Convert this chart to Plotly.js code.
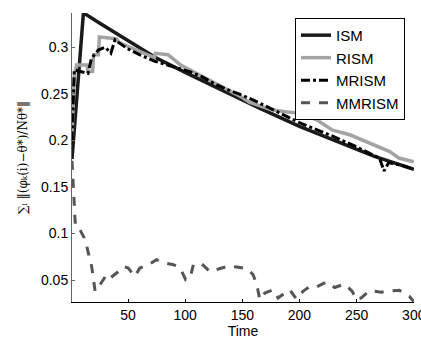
<!DOCTYPE html>
<html>
<head>
<meta charset="utf-8">
<script src="https://cdn.plot.ly/plotly-3.0.1.min.js"></script>
<style>html,body{margin:0;padding:0;background:#fff;}#chart{width:421px;height:339px;}</style>
</head>
<body>
<div id="chart"></div>
<script>
// ISM
var ismT = [1, 11, 25, 50, 74, 100, 125, 150, 165, 200, 235, 265, 300];
var ismV = [0.18, 0.337, 0.326, 0.307, 0.289, 0.273, 0.258, 0.244, 0.2346, 0.215, 0.198, 0.183, 0.169];
// RISM
var rismT = [1, 3, 5, 14, 15, 19, 20, 24, 25, 40, 42, 55, 73, 74, 85, 96, 110, 130, 150, 156, 165, 175, 186, 200, 215, 229, 244, 261, 279, 287, 300];
var rismV = [0.205, 0.27, 0.281, 0.281, 0.274, 0.274, 0.292, 0.292, 0.311, 0.309, 0.305, 0.298, 0.289, 0.2935, 0.292, 0.281, 0.272, 0.259, 0.246, 0.241, 0.237, 0.233, 0.231, 0.229, 0.222, 0.211, 0.206, 0.197, 0.188, 0.181, 0.177];
// MRISM
var mrismT = [1, 3, 15, 18, 24, 30, 35, 38.6, 48.8, 60, 73.5, 90, 104, 114.5, 124.6, 137.7, 149.4, 162.5, 180, 200, 230, 250, 270, 274, 278, 290, 300];
var mrismV = [0.20, 0.2757, 0.272, 0.288, 0.297, 0.300, 0.2936, 0.308, 0.299, 0.292, 0.285, 0.279, 0.2738, 0.2685, 0.2614, 0.2542, 0.2488, 0.2416, 0.231, 0.219, 0.204, 0.193, 0.181, 0.167, 0.176, 0.173, 0.169];
// MMRISM
var mmrismT = [1, 4, 8, 12.5, 15.3, 18.2, 19.7, 21.2, 25.5, 31.3, 34.3, 40, 45.9, 50.2, 56, 60.4, 67.7, 75, 82.2, 89.8, 95.6, 100.5, 104.3, 107.2, 114.5, 121.7, 130.5, 137.7, 145, 153.7, 159.5, 163, 165.3, 169.7, 177, 181.3, 187.1, 191.5, 197.3, 203.1, 209, 214.8, 223.5, 230.7, 239.5, 246.2, 249.6, 254, 261.3, 271.5, 280.2, 287.4, 296.2, 300];
var mmrismV = [0.178, 0.107, 0.104, 0.0933, 0.079, 0.0646, 0.052, 0.0378, 0.045, 0.0557, 0.052, 0.0575, 0.0646, 0.0629, 0.0539, 0.0629, 0.0664, 0.0718, 0.0682, 0.0664, 0.0629, 0.0503, 0.0521, 0.0664, 0.0674, 0.0589, 0.0624, 0.065, 0.064, 0.0624, 0.0557, 0.0431, 0.029, 0.036, 0.0396, 0.0307, 0.036, 0.0396, 0.0296, 0.0378, 0.0431, 0.0425, 0.0478, 0.042, 0.0457, 0.0378, 0.029, 0.0307, 0.0385, 0.037, 0.0385, 0.0389, 0.0324, 0.027];

var seriesNames = ["ISM", "RISM", "MRISM", "MMRISM"];
var xTickVals = [50, 100, 150, 200, 250, 300];
var xTickText = ["50", "100", "150", "200", "250", "300"];
var yTickVals = [0.05, 0.1, 0.15, 0.2, 0.25, 0.3];
var yTickText = ["0.05", "0.1", "0.15", "0.2", "0.25", "0.3"];
var yTitle = "∑ᵢ ‖(φₖ(i)−θ*)/Nθ*‖";

var FONT = "Liberation Sans, Arial, Helvetica, sans-serif";

var traces = [
  {x: ismT, y: ismV, name: seriesNames[0], mode: "lines", line: {color: "#1a1a1a", width: 3.5}},
  {x: rismT, y: rismV, name: seriesNames[1], mode: "lines", line: {color: "#a3a3a3", width: 3.5}},
  {x: mrismT, y: mrismV, name: seriesNames[2], mode: "lines", line: {color: "#000000", width: 3, dash: "dashdot"}},
  {x: mmrismT, y: mmrismV, name: seriesNames[3], mode: "lines", line: {color: "#555555", width: 3, dash: "dash"}}
];

var layout = {
  width: 421, height: 339,
  margin: {l: 72, r: 7, t: 13, b: 37, pad: 0},
  paper_bgcolor: "#fff", plot_bgcolor: "#fff",
  font: {family: FONT, size: 14, color: "#000"},
  showlegend: true,
  legend: {
    x: 0.652, y: 0.983, xanchor: "left", yanchor: "top",
    bgcolor: "#fff", bordercolor: "#000", borderwidth: 1,
    font: {family: FONT, size: 15, color: "#000"},
    tracegroupgap: 0
  },
  xaxis: {
    range: [1, 300.2], tickvals: xTickVals, ticktext: xTickText,
    ticks: "inside", ticklen: 3, tickcolor: "#000",
    ticklabeloverflow: "allow",
    showline: true, linecolor: "#000", linewidth: 1,
    showgrid: false, zeroline: false, mirror: false,
    tickfont: {family: FONT, size: 14, color: "#000"},
    title: {text: "Time", font: {family: FONT, size: 14, color: "#000"}, standoff: 2}
  },
  yaxis: {
    range: [0.0264, 0.3368], tickvals: yTickVals, ticktext: yTickText,
    ticks: "inside", ticklen: 3, tickcolor: "#666",
    showline: true, linecolor: "#666", linewidth: 1,
    showgrid: false, zeroline: false, mirror: false,
    tickfont: {family: FONT, size: 14, color: "#000"},
    title: {text: yTitle, font: {family: "DejaVu Serif, DejaVu Sans, serif", size: 12, color: "#000"}, standoff: 10}
  }
};

Plotly.newPlot("chart", traces, layout, {displayModeBar: false, staticPlot: true});
</script>
</body>
</html>
